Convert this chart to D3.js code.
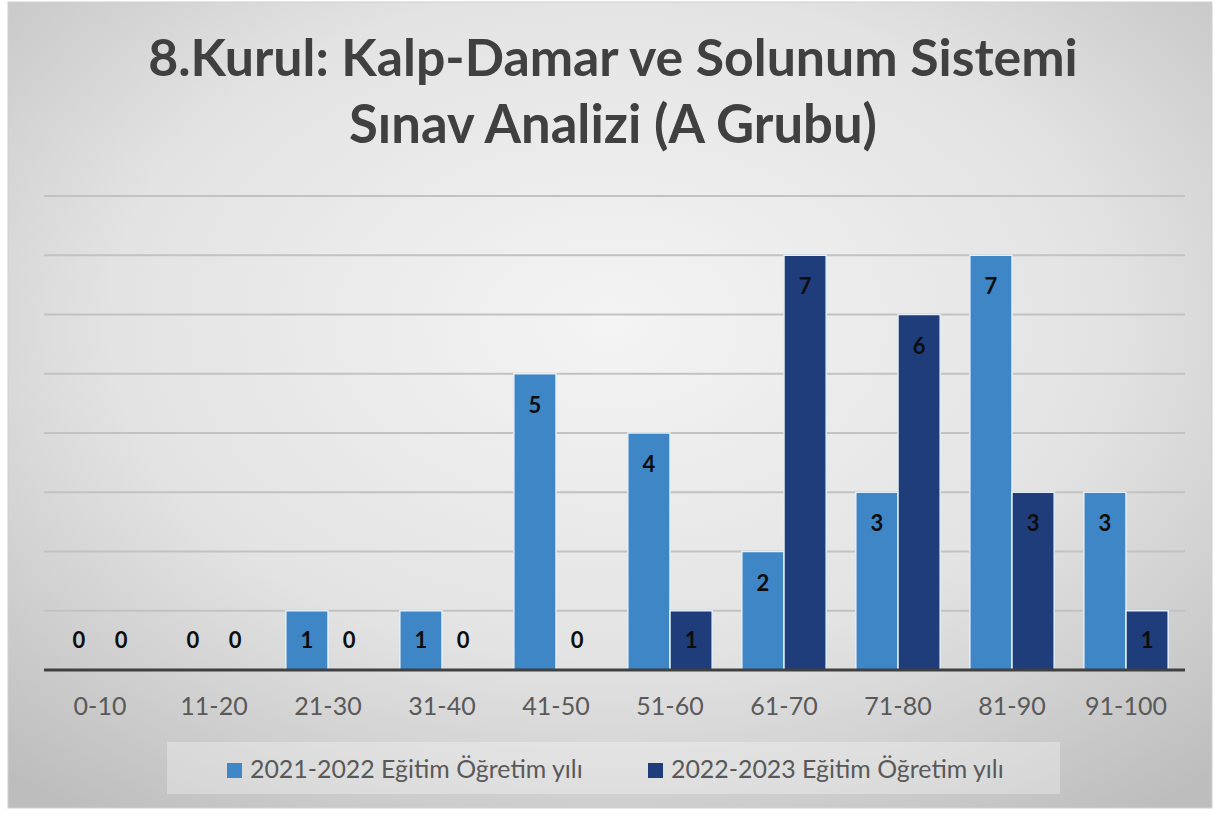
<!DOCTYPE html>
<html>
<head>
<meta charset="utf-8">
<script src="https://cdn.jsdelivr.net/npm/d3@7"></script>
<style>
  body { margin: 0; background: #fff; }
  svg { display: block; font-family: Lato, "Open Sans", sans-serif; }
</style>
</head>
<body>
<svg id="chart" width="1219" height="816"></svg>
<script>
var categories = ['0-10', '11-20', '21-30', '31-40', '41-50', '51-60', '61-70', '71-80', '81-90', '91-100'];
var seriesNames = ['2021-2022 Eğitim Öğretim yılı', '2022-2023 Eğitim Öğretim yılı'];
var values2122 = [0, 0, 1, 1, 5, 4, 2, 3, 7, 3];
var values2223 = [0, 0, 0, 0, 0, 1, 7, 6, 3, 1];
var yTicks = [0, 1, 2, 3, 4, 5, 6, 7, 8];
var titleLines = ['8.Kurul: Kalp-Damar ve Solunum Sistemi', 'Sınav Analizi (A Grubu)'];
var colors = ['#3f86c7', '#1f3d7a'];

var svg = d3.select('#chart');

// background gradient
var defs = svg.append('defs');
var grad = defs.append('radialGradient')
	.attr('id', 'bg')
	.attr('cx', '50%').attr('cy', '40%').attr('r', '75%');
grad.append('stop').attr('offset', '0%').attr('stop-color', '#f4f4f4');
grad.append('stop').attr('offset', '55%').attr('stop-color', '#e3e3e3');
grad.append('stop').attr('offset', '100%').attr('stop-color', '#bdbdbd');

svg.append('rect')
	.attr('x', 8).attr('y', 2)
	.attr('width', 1204).attr('height', 806)
	.attr('fill', 'url(#bg)')
	.attr('stroke', '#d0d0d0');

// title, sized to the reference line widths
var title = svg.append('g').attr('class', 'title');
var titleWidths = [930, 528];
var titleY = [76, 143];
titleLines.forEach(function(line, i) {
	var t = title.append('text')
		.attr('x', 613).attr('y', titleY[i])
		.attr('text-anchor', 'middle')
		.attr('fill', '#404040')
		.style('font-weight', 'bold')
		.style('font-size', '50px')
		.text(line);
	var w = t.node().getComputedTextLength();
	t.style('font-size', (50 * titleWidths[i] / w).toFixed(1) + 'px');
});

// scales
var x0 = d3.scaleBand()
	.domain(categories)
	.range([43, 1183])
	.paddingInner(0.26)
	.paddingOuter(0.13);

var x1 = d3.scaleBand()
	.domain(seriesNames)
	.range([0, x0.bandwidth()]);

var y = d3.scaleLinear()
	.domain([0, 8])
	.range([670, 196]);

// gridlines
svg.append('g')
	.selectAll('line')
	.data(yTicks.filter(function(d) { return d > 0; }))
	.enter()
	.append('line')
	.attr('x1', 44).attr('x2', 1185)
	.attr('y1', function(d) { return y(d); })
	.attr('y2', function(d) { return y(d); })
	.attr('stroke', '#c2c2c2')
	.attr('stroke-width', 2);

var rows = categories.map(function(c, i) {
	return {cat: c, vals: [values2122[i], values2223[i]]};
});

var groups = svg.append('g')
	.selectAll('g')
	.data(rows)
	.enter()
	.append('g')
	.attr('transform', function(d) { return 'translate(' + x0(d.cat) + ',0)'; });

groups.selectAll('rect')
	.data(function(d) { return d.vals.map(function(v, i) { return {s: seriesNames[i], v: v, i: i}; }); })
	.enter()
	.filter(function(d) { return d.v > 0; })
	.append('rect')
	.attr('x', function(d) { return x1(d.s); })
	.attr('y', function(d) { return y(d.v); })
	.attr('width', x1.bandwidth())
	.attr('height', function(d) { return y(0) - y(d.v); })
	.attr('fill', function(d) { return colors[d.i]; })
	.attr('stroke', '#e4eef8')
	.attr('stroke-width', 1.5);

groups.selectAll('text')
	.data(function(d) { return d.vals.map(function(v, i) { return {s: seriesNames[i], v: v, i: i}; }); })
	.enter()
	.append('text')
	.attr('x', function(d) { return x1(d.s) + x1.bandwidth() / 2; })
	.attr('y', function(d) { return Math.min(y(d.v) + 31, y(0) - 30) + 8; })
	.attr('text-anchor', 'middle')
	.attr('fill', '#0d0d0d')
	.style('font-weight', 'bold')
	.style('font-size', '22px')
	.text(function(d) { return d.v; });

// baseline
svg.append('line')
	.attr('x1', 44).attr('x2', 1185)
	.attr('y1', y(0)).attr('y2', y(0))
	.attr('stroke', '#404040')
	.attr('stroke-width', 3);

// category labels
var xAxis = d3.axisBottom(x0).tickSize(0).tickPadding(0);
var xg = svg.append('g')
	.attr('transform', 'translate(0,' + 697 + ')')
	.call(xAxis);
xg.select('.domain').remove();
xg.selectAll('text')
	.attr('fill', '#595959')
	.style('font-family', 'Lato, "Open Sans", sans-serif')
	.style('font-size', '25px');

// legend
var legend = svg.append('g');
legend.append('rect')
	.attr('x', 167).attr('y', 742)
	.attr('width', 893).attr('height', 52)
	.attr('fill', '#ffffff')
	.attr('fill-opacity', 0.3);

var legendX = [227, 648];
seriesNames.forEach(function(name, i) {
	legend.append('rect')
		.attr('x', legendX[i]).attr('y', 763)
		.attr('width', 15).attr('height', 15)
		.attr('fill', colors[i]);
	var t = legend.append('text')
		.attr('x', legendX[i] + 23).attr('y', 778)
		.attr('fill', '#595959')
		.style('font-size', '22px')
		.text(name);
	var w = t.node().getComputedTextLength();
	t.style('font-size', (22 * 333 / w).toFixed(1) + 'px');
});
</script>
</body>
</html>
